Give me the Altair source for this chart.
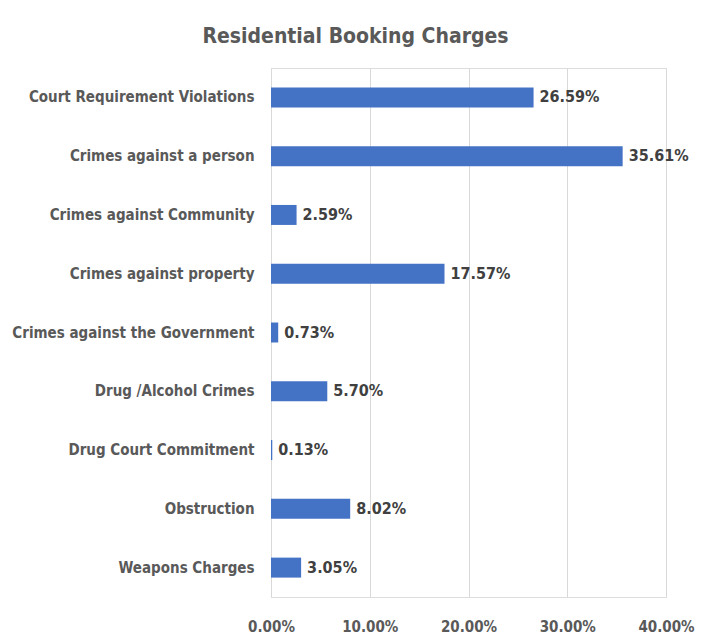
import altair as alt
import pandas as pd

categories = [
    "Court Requirement Violations",
    "Crimes against a person",
    "Crimes against Community",
    "Crimes against property",
    "Crimes against the Government",
    "Drug /Alcohol Crimes",
    "Drug Court Commitment",
    "Obstruction",
    "Weapons Charges",
]
values = [0.2659, 0.3561, 0.0259, 0.1757, 0.0073, 0.0570, 0.0013, 0.0802, 0.0305]
x_ticks = [0.0, 0.1, 0.2, 0.3, 0.4]

df = pd.DataFrame({"category": categories, "value": values})

FONT = "DejaVu Sans Condensed"
GRAY = "#595959"

base = alt.Chart(df).encode(
    y=alt.Y(
        "category:N",
        sort=categories,
        scale=alt.Scale(paddingInner=0.66, paddingOuter=0.33),
        axis=alt.Axis(
            title=None, domain=False, ticks=False, labelPadding=17,
            labelFont=FONT, labelFontSize=15, labelFontWeight="bold",
            labelColor=GRAY, labelLimit=400,
        ),
    ),
    x=alt.X(
        "value:Q",
        scale=alt.Scale(domain=[0, 0.4], nice=False),
        axis=alt.Axis(
            title=None, values=x_ticks, format=".2%", domain=False, ticks=False,
            grid=True, gridColor="#d9d9d9", labelPadding=22, labelFlush=False,
            labelFont=FONT, labelFontSize=15, labelFontWeight="bold",
            labelColor=GRAY,
        ),
    ),
)

bars = base.mark_bar(color="#4472C4")
labels = base.mark_text(
    align="left", baseline="middle", dx=6, font=FONT, fontSize=16,
    fontWeight="bold", color="#404040",
).encode(text=alt.Text("value:Q", format=".2%"))

chart = (
    alt.layer(bars, labels)
    .properties(
        width=395,
        height=529,
        autosize=alt.AutoSizeParams(type="none"),
        padding={"left": 263, "top": 60, "right": 30, "bottom": 39},
        title=alt.TitleParams(
            "Residential Booking Charges", font=FONT, fontSize=21,
            fontWeight="bold", color=GRAY, dx=-113, offset=21,
        ),
    )
    .configure_view(stroke=None)
    .configure(background="white")
)

chart.save("out.html", embed_options={"renderer": "svg", "actions": False})
